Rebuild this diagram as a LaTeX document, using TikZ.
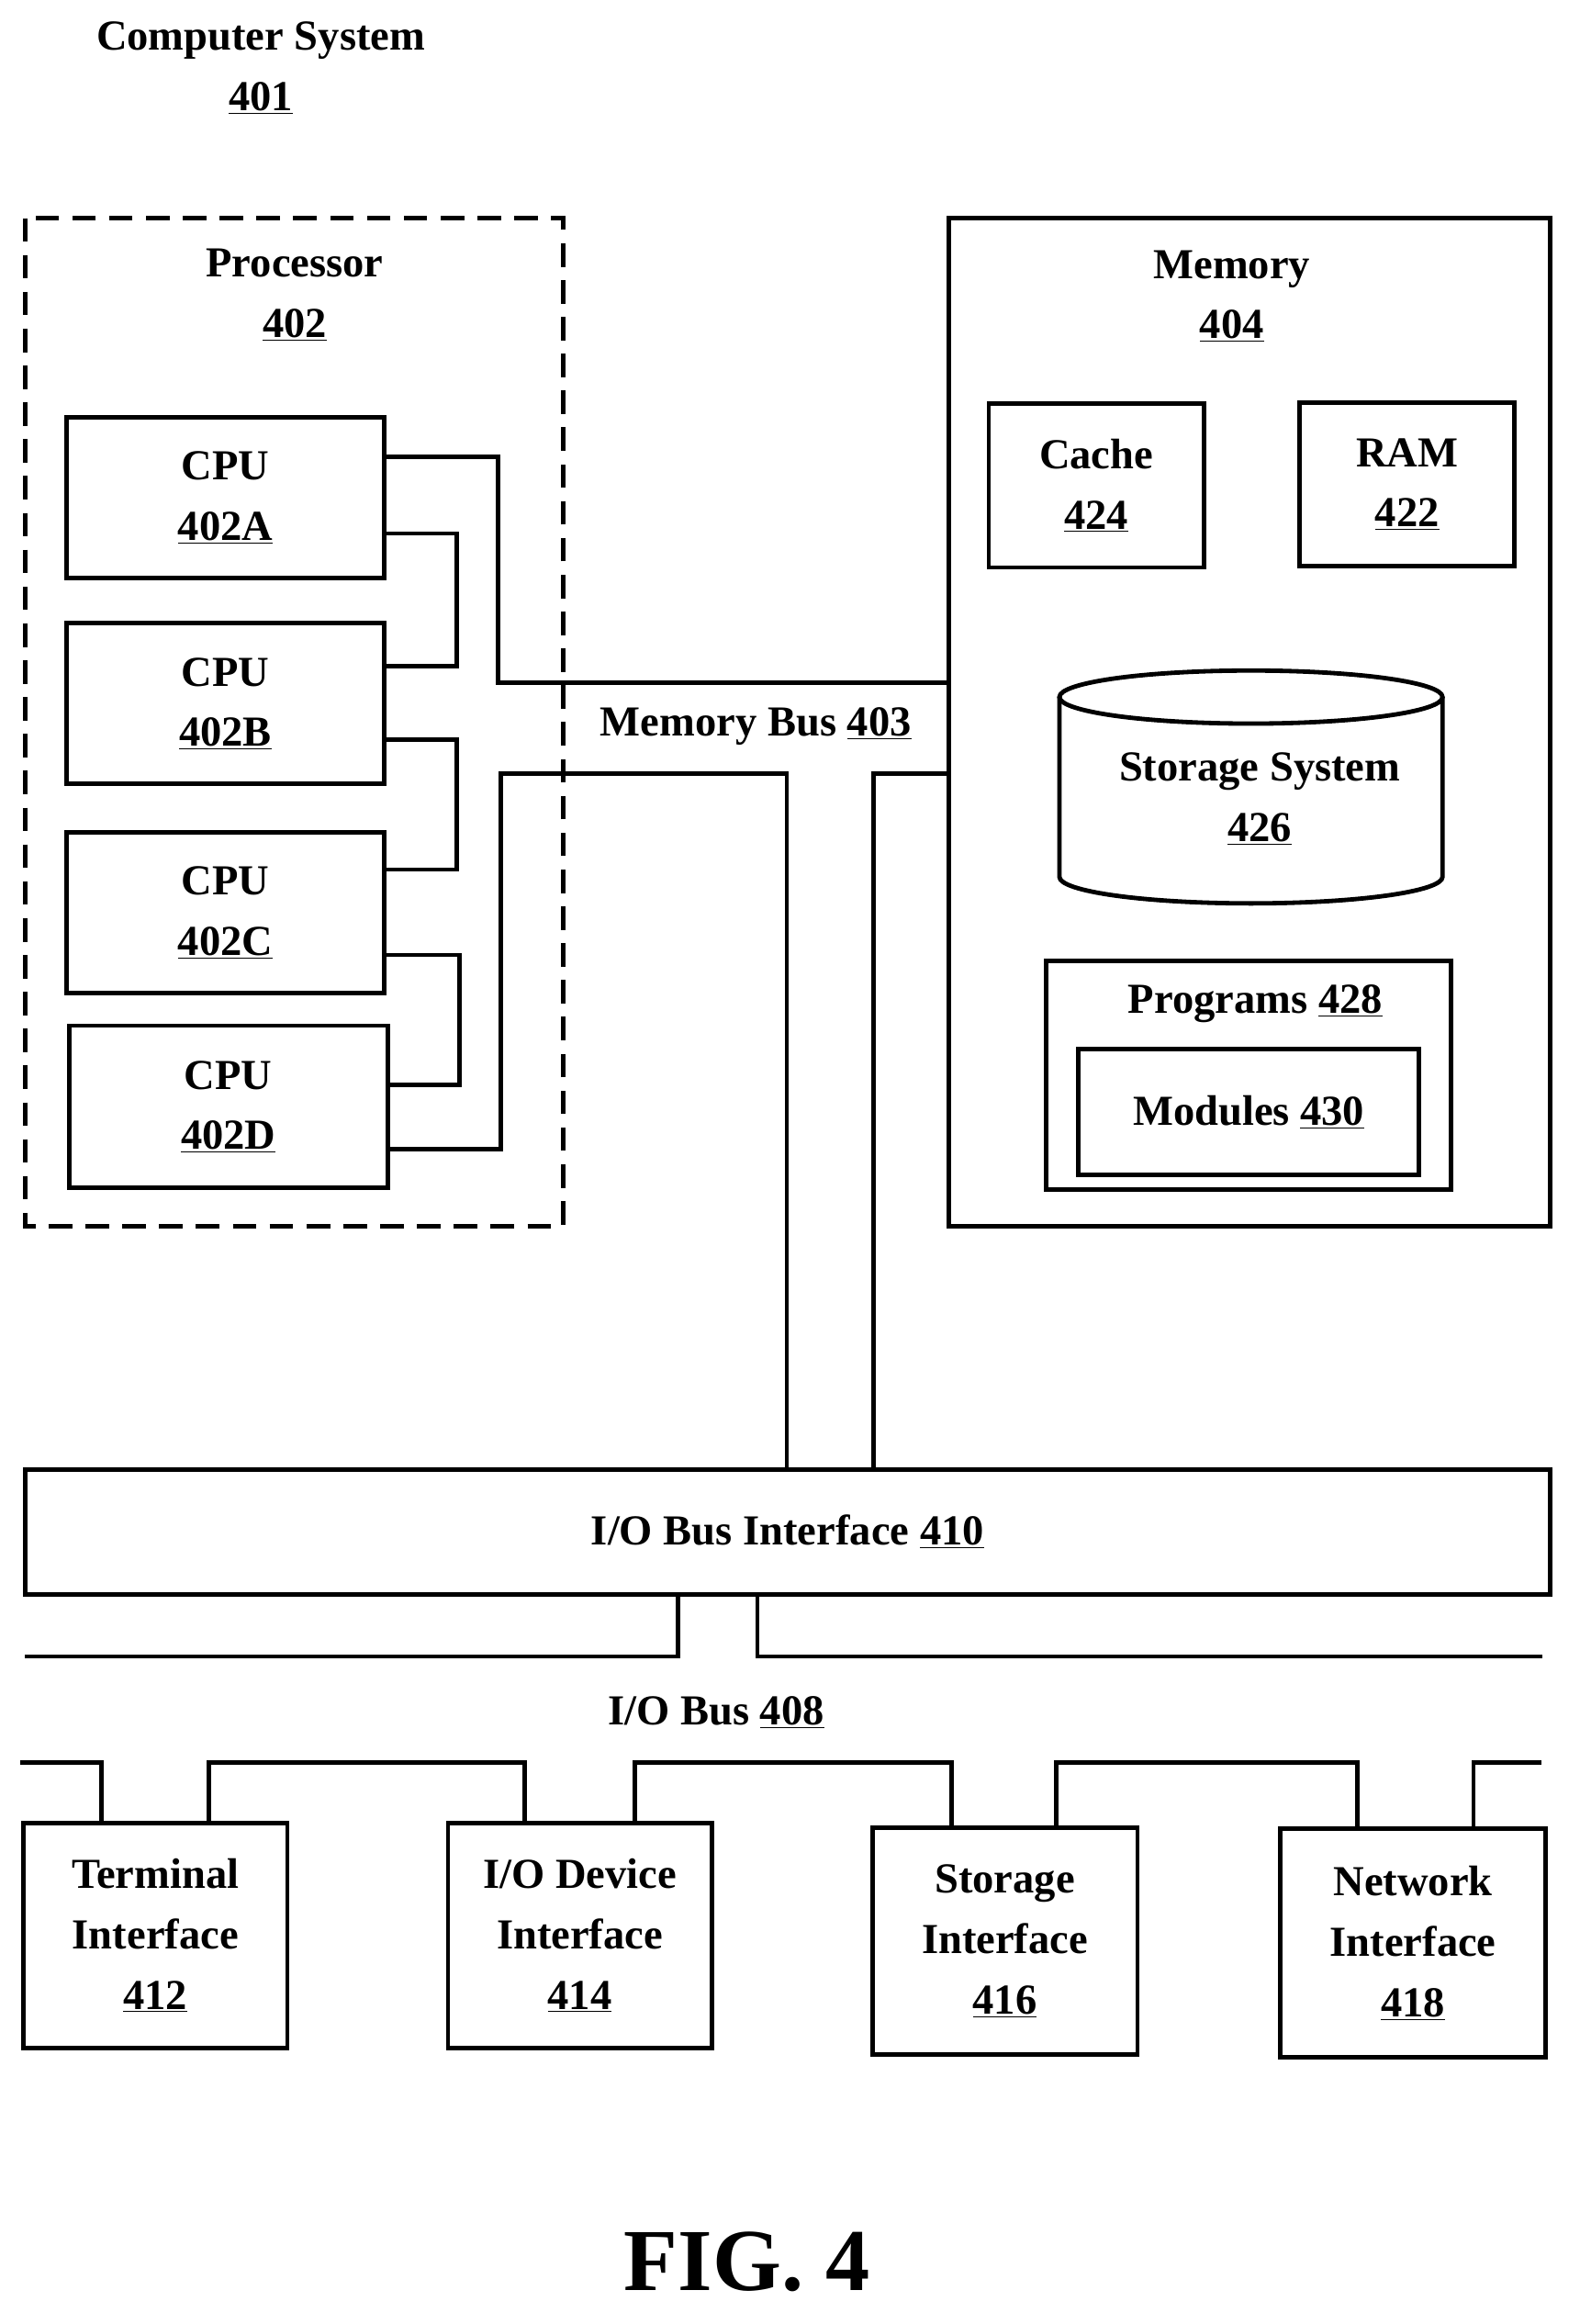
\documentclass[tikz,border=0pt]{standalone}
\usepackage{fontspec}
\setmainfont{Liberation Serif}
\usetikzlibrary{shapes.geometric}
\begin{document}
\begin{tikzpicture}[x=1pt,y=-1pt,
  ln/.style={line width=3pt},
  bx/.style={draw,line width=3pt},
  tx/.style={font=\bfseries\fontsize{29}{41}\selectfont,align=center,inner sep=0pt}]
\useasboundingbox (0,0) rectangle (1072,1577);
\node[tx] (t401) at (177,46) {Computer System\\\underline{401}};
\draw[ln,dash pattern=on 16pt off 9pt] (17,148) rectangle (382,832);
\node[tx] (t402) at (200,200) {Processor\\\underline{402}};
\draw[bx] (45,283) rectangle (261,392) node[tx,midway] (ca) {CPU\\\underline{402A}};
\draw[bx] (45,423) rectangle (261,532) node[tx,midway] (cb) {CPU\\\underline{402B}};
\draw[bx] (45,565) rectangle (261,674) node[tx,midway] (cc) {CPU\\\underline{402C}};
\draw[bx] (47,696) rectangle (263,806) node[tx,midway] (cd) {CPU\\\underline{402D}};
\draw[ln] (261,310) -| (338,463) -- (644,463);
\draw[ln] (261,362) -| (310,452) -- (261,452);
\draw[ln] (261,502) -| (310,590) -- (261,590);
\draw[ln] (261,648) -| (312,736) -- (263,736);
\draw[ln] (263,780) -| (340,525) -| (534,997);
\draw[ln] (644,525) -| (593,997);
\node[tx] (mb) at (513,493) {Memory Bus \underline{403}};
\draw[bx] (644,148) rectangle (1052,832);
\node[tx] (t404) at (836,201) {Memory\\\underline{404}};
\draw[bx] (671,274) rectangle (817,385) node[tx,midway] {Cache\\\underline{424}};
\draw[bx] (882,273) rectangle (1028,384) node[tx,midway] {RAM\\\underline{422}};
\draw[ln] (719,473) -- (719,595) arc[start angle=180,end angle=360,x radius=130,y radius=-18] -- (979,473);
\draw[ln] (849,473) ellipse[x radius=130,y radius=18];
\node[tx] (t426) at (855,542) {Storage System\\\underline{426}};
\draw[bx] (710,652) rectangle (985,807);
\node[tx] (t428) at (852,681) {Programs \underline{428}};
\draw[bx] (732,712) rectangle (963,797) node[tx,midway] {Modules \underline{430}};
\draw[bx] (17,997) rectangle (1052,1082) node[tx,midway] {I/O Bus Interface \underline{410}};
\draw[ln] (17,1124) -| (460,1082);
\draw[ln] (514,1082) |- (1047,1124);
\node[tx] (t408) at (486,1162) {I/O Bus \underline{408}};
\draw[ln] (14,1196) -| (69,1237);
\draw[ln] (142,1237) |- (356,1196) -- (356,1237);
\draw[ln] (431,1237) |- (646,1196) -- (646,1240);
\draw[ln] (717,1240) |- (921,1196) -- (921,1241);
\draw[ln] (1000,1241) |- (1046,1196);
\draw[bx] (16,1237) rectangle (195,1390) node[tx,midway] {Terminal\\Interface\\\underline{412}};
\draw[bx] (304,1237) rectangle (483,1390) node[tx,midway] {I/O Device\\Interface\\\underline{414}};
\draw[bx] (592,1240) rectangle (772,1394) node[tx,midway] {Storage\\Interface\\\underline{416}};
\draw[bx] (869,1241) rectangle (1049,1396) node[tx,midway] {Network\\Interface\\\underline{418}};
\node[font=\bfseries\fontsize{60}{60}\selectfont,inner sep=0pt] (fig) at (507,1535) {FIG. 4};
\end{tikzpicture}
\end{document}
